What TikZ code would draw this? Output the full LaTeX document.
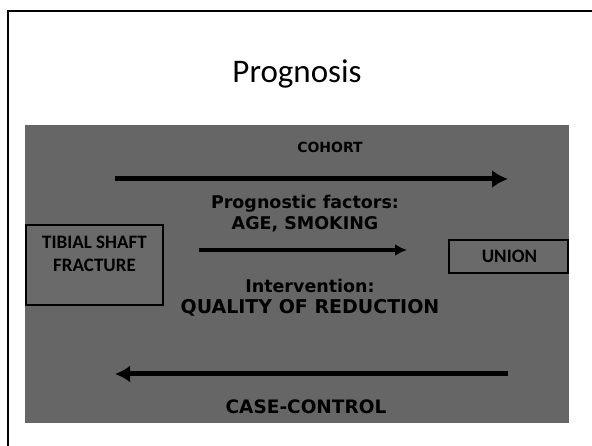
\documentclass[tikz,border=0pt]{standalone}
\usepackage{fontspec}
\setmainfont{Carlito}
\newfontfamily\comicfont{DejaVu Sans}
\usetikzlibrary{arrows.meta}
\definecolor{slide}{HTML}{666666}
\definecolor{boxfill}{HTML}{6A6A6A}

\begin{document}
\begin{tikzpicture}[x=1pt, y=-1pt, >={Latex[length=16pt,width=18pt]},
    box/.style ={rectangle, draw, line width=2pt, fill=boxfill, inner sep=0pt},
    boxtext/.style ={font=\fontsize{19}{23}\selectfont\bfseries, align=center},
    design/.style ={font=\comicfont\fontsize{17.5}{21}\selectfont\bfseries, align=center},
    study/.style ={line width=5pt, ->}]
   \useasboundingbox (0,0) rectangle (592,446);
   \draw[line width=2.5pt] (8,446) -- (8,11) -- (592,11);
   \fill[slide] (25,125) rectangle (569,423);
   \node (title) at (297,74) {\fontsize{33}{38}\selectfont Prognosis};
   % exposure and outcome
   \node[box, minimum width=137pt, minimum height=80pt] (F) at (94.5,265) {};
   \node[boxtext] (Ft) at (94.5,253.5) {TIBIAL SHAFT\\FRACTURE};
   \node[box, minimum width=119pt, minimum height=33pt] (U) at (508.5,256.5) {};
   \node[boxtext] (Ut) at (509.5,256.5) {UNION};
   % study directions
   \node[design, font=\comicfont\fontsize{14}{16}\selectfont\bfseries] (cohort) at (330,147) {COHORT};
   \node[design] (factors) at (305,213.5) {Prognostic factors:\\AGE, SMOKING};
   \node[design] (interv) at (310,297.5) {Intervention:\\\fontsize{19}{21}\selectfont QUALITY OF REDUCTION};
   \node[design, font=\comicfont\fontsize{18.5}{21}\selectfont\bfseries] (cc) at (306,407) {CASE-CONTROL};
   \coordinate (c1) at (115,179);
   \coordinate (c2) at (508,179);
   \coordinate (m1) at (199,250);
   \coordinate (m2) at (407,250);
   \coordinate (k1) at (508,374);
   \coordinate (k2) at (115,374);
   \draw[study] (c1) to (c2);
   \draw[study, line width=4pt, >={Latex[length=12pt,width=12pt]}] (m1) to (m2);
   \draw[study, >={Latex[length=15pt,width=17pt]}] (k1) to (k2);
 \end{tikzpicture}
\end{document}
